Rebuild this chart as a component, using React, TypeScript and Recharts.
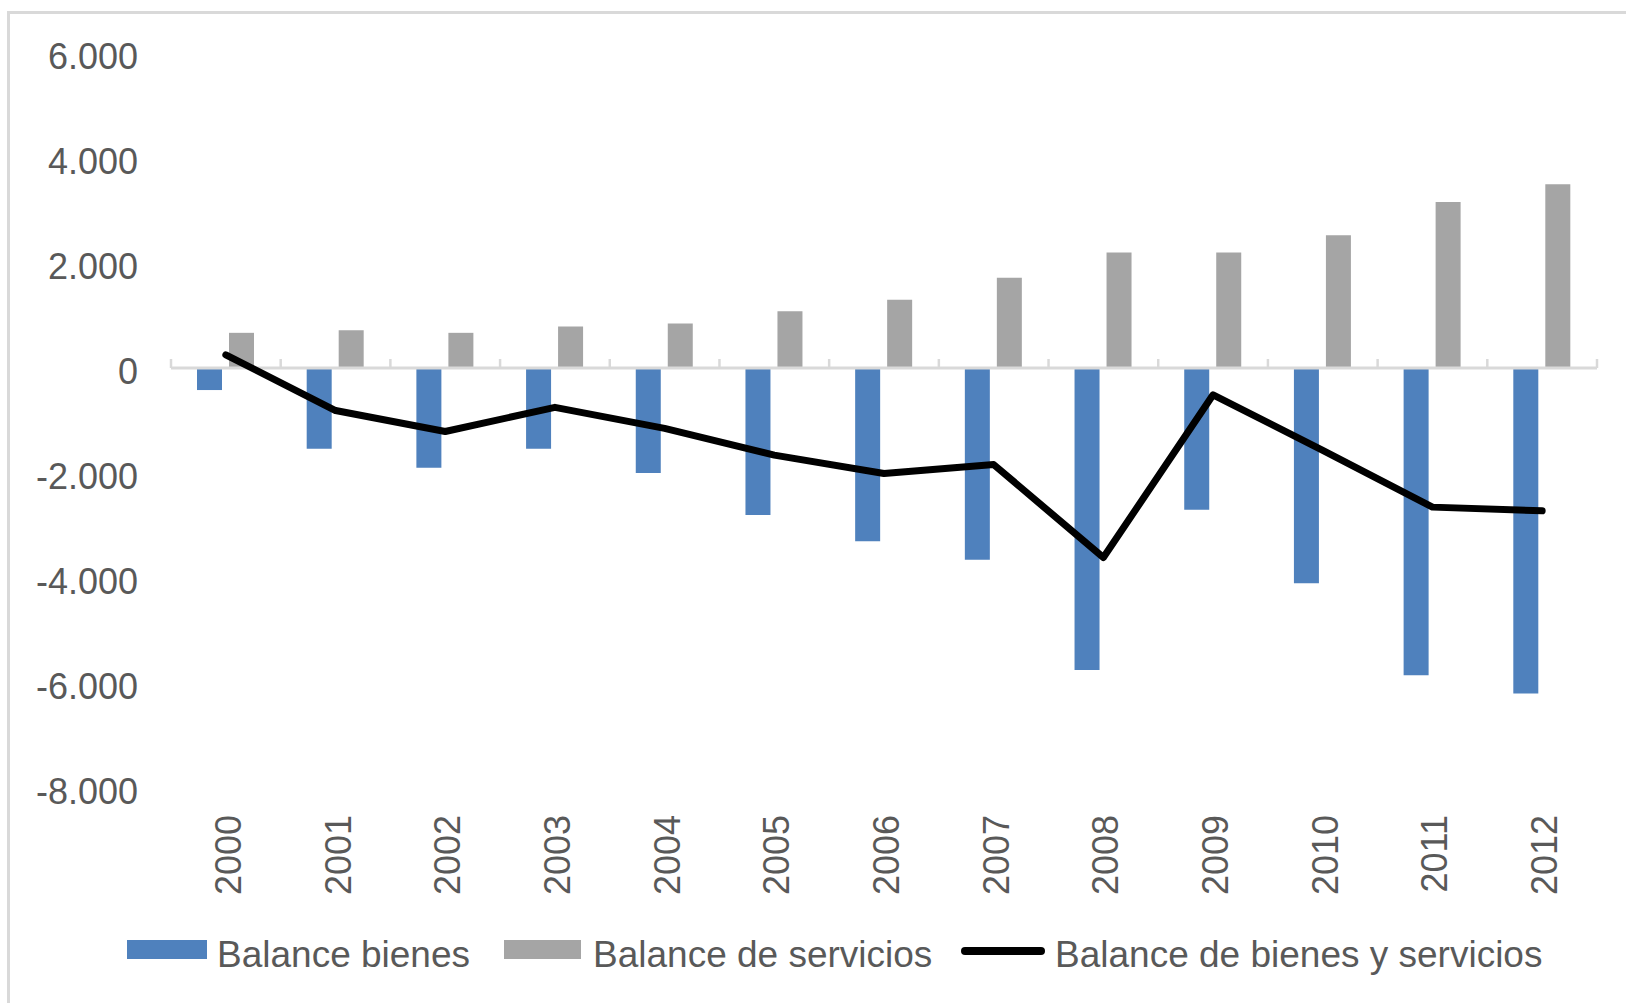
import { ComposedChart, Bar, Line, XAxis, YAxis, ReferenceLine } from 'recharts';

const years = ['2000', '2001', '2002', '2003', '2004', '2005', '2006', '2007', '2008', '2009', '2010', '2011', '2012'];
const balanceBienes = [-420, -1540, -1900, -1540, -2000, -2800, -3300, -3650, -5750, -2700, -4100, -5850, -6200];
const balanceServicios = [670, 720, 670, 790, 850, 1080, 1300, 1720, 2200, 2200, 2530, 3160, 3500];
const balanceTotal = [250, -810, -1210, -750, -1150, -1660, -2010, -1840, -3610, -510, -1570, -2650, -2720];
const yTicks = [-8000, -6000, -4000, -2000, 0, 2000, 4000, 6000];

const data = years.map((year, i) => ({
  year,
  bienes: balanceBienes[i],
  servicios: balanceServicios[i],
  total: balanceTotal[i],
}));

const FONT = '"Liberation Sans", Arial, sans-serif';
const TEXT = '#595959';
const GRID = '#d9d9d9';
const BLUE = '#4f81bd';
const GRAY = '#a5a5a5';

const fmt = (v: number) => {
  const s = Math.abs(v).toString().replace(/\B(?=(\d{3})+(?!\d))/g, '.');
  return v < 0 ? `-${s}` : s;
};

const YearTick = ({ x, y, payload }: any) => (
  <g transform={`translate(${x},${y + 27})`}>
    <text x={0} y={0} dy={15} textAnchor="end" transform="rotate(-90)" fill={TEXT} fontSize={36} fontFamily={FONT}>
      {payload.value}
    </text>
  </g>
);

const ValueTick = ({ x, y, payload }: any) => (
  <text x={x} y={y} dy={16} textAnchor="end" fill={TEXT} fontSize={36} fontFamily={FONT}>
    {fmt(payload.value)}
  </text>
);

// zero line with small category-boundary ticks pointing up
const ZeroAxis = (props: any) => {
  const { x1, x2, y1 } = props;
  const step = (x2 - x1) / years.length;
  return (
    <g>
      {years.concat(['']).map((_, i) => (
        <line key={i} x1={x1 + i * step} x2={x1 + i * step} y1={y1 - 9} y2={y1} stroke={GRID} strokeWidth={2.5} />
      ))}
      <line x1={x1} x2={x2} y1={y1} y2={y1} stroke={GRID} strokeWidth={3} />
    </g>
  );
};

const legendText = { position: 'absolute' as const, top: 936, fontSize: 37, lineHeight: '37px', color: TEXT, whiteSpace: 'nowrap' as const };

export default function App() {
  return (
    <div style={{ position: 'absolute', left: 0, top: 0, width: 1626, height: 1003, overflow: 'hidden', background: '#fff', fontFamily: FONT }}>
      <div style={{ position: 'absolute', left: 7, top: 11, width: 2000, height: 2000, border: `3px solid ${GRID}` }} />
      <div style={{ position: 'absolute', left: 0, top: 0 }}>
        <ComposedChart width={1626} height={1003} data={data} margin={{ top: 53, right: 29, bottom: 0, left: 0 }} barSize={25} barGap={7}>
          <XAxis dataKey="year" height={215} axisLine={false} tickLine={false} tickSize={0} tickMargin={0} interval={0} tick={<YearTick />} />
          <YAxis
            width={171}
            domain={[-8000, 6000]}
            ticks={yTicks}
            interval={0}
            axisLine={false}
            tickLine={false}
            tickSize={0}
            tickMargin={33}
            tick={<ValueTick />}
          />
          <Bar dataKey="bienes" name="Balance bienes" fill={BLUE} isAnimationActive={false} />
          <Bar dataKey="servicios" name="Balance de servicios" fill={GRAY} isAnimationActive={false} />
          <ReferenceLine y={0} shape={<ZeroAxis />} />
          <Line
            type="linear"
            dataKey="total"
            name="Balance de bienes y servicios"
            stroke="#000"
            strokeWidth={7}
            strokeLinecap="round"
            strokeLinejoin="round"
            dot={false}
            isAnimationActive={false}
          />
        </ComposedChart>
      </div>
      <div style={{ position: 'absolute', left: 127, top: 940, width: 80, height: 19, background: BLUE }} />
      <div style={{ ...legendText, left: 217 }}>Balance bienes</div>
      <div style={{ position: 'absolute', left: 504, top: 940, width: 77, height: 19, background: GRAY }} />
      <div style={{ ...legendText, left: 593 }}>Balance de servicios</div>
      <div style={{ position: 'absolute', left: 961, top: 947, width: 84, height: 8, borderRadius: 4, background: '#000' }} />
      <div style={{ ...legendText, left: 1055 }}>Balance de bienes y servicios</div>
    </div>
  );
}
